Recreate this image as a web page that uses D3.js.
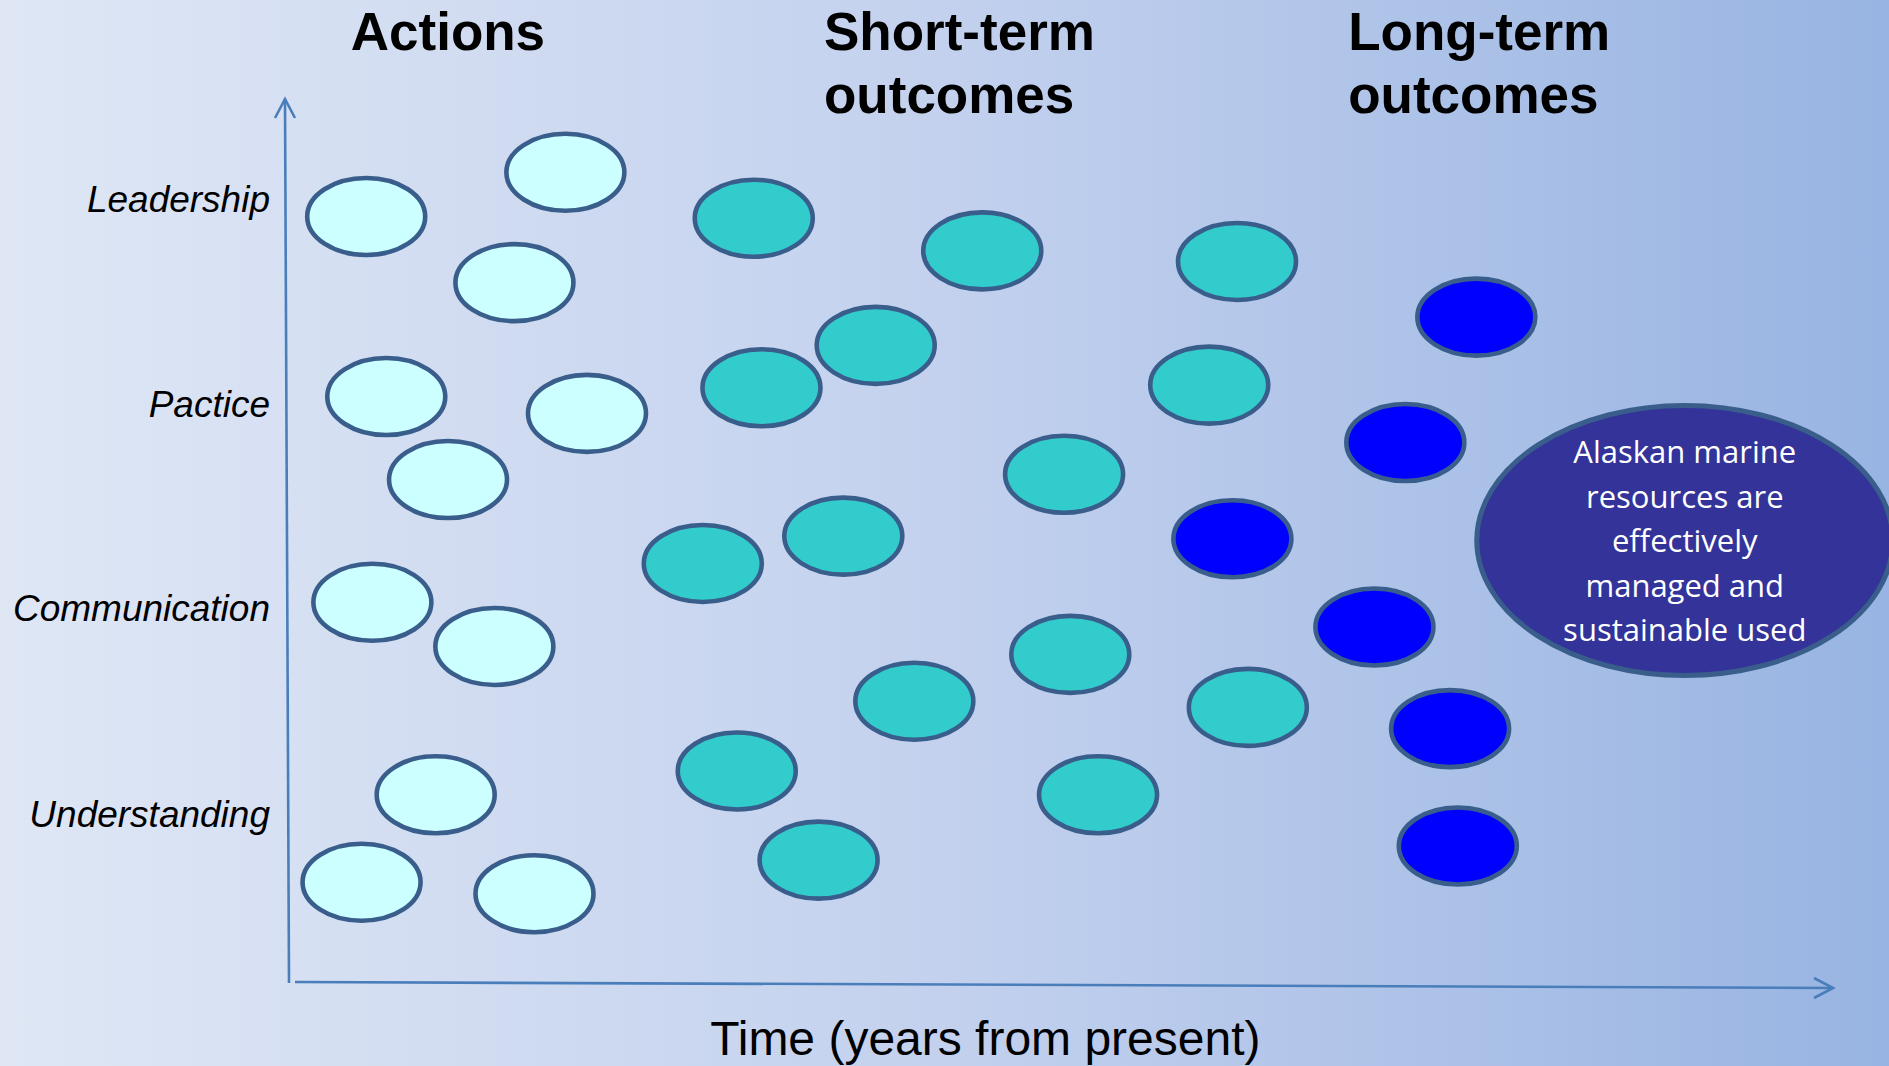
<!DOCTYPE html>
<html>
<head>
<meta charset="utf-8">
<script src="https://cdn.jsdelivr.net/npm/d3@7"></script>
<style>
  html, body { margin: 0; padding: 0; overflow: hidden; }
  svg { display: block; }
</style>
</head>
<body>
<svg id="chart" width="1889" height="1066"></svg>
<script>
// ---------- DATA ----------
const categories = ["Leadership", "Pactice", "Communication", "Understanding"];
const categoryLevels = [8.87, 6.55, 4.24, 1.90];

const phaseTitles = [["Actions"], ["Short-term", "outcomes"], ["Long-term", "outcomes"]];
const phaseTitleTime = [0.40, 3.465, 6.86];

const xAxisLabel = "Time (years from present)";

// Actions (light cyan)
const actionTime  = [0.50, 1.79, 1.46, 0.63, 1.93, 1.03, 0.54, 1.33, 0.95, 0.47, 1.59];
const actionLevel = [8.67, 9.17, 7.92, 6.63, 6.44, 5.69, 4.30, 3.80, 2.12, 1.13, 1.00];

// Short-term outcomes (teal)
const shortTime  = [3.01, 4.49, 6.14, 3.80, 3.06, 5.96, 5.02, 3.59, 2.68, 5.06, 4.05, 6.21, 2.90, 5.24, 3.43];
const shortLevel = [8.65, 8.28, 8.16, 7.21, 6.73, 6.76, 5.75, 5.05, 4.74, 3.71, 3.18, 3.11, 2.39, 2.12, 1.38];

// Long-term outcomes (blue)
const longTime  = [7.69, 7.23, 6.11, 7.03, 7.52, 7.57];
const longLevel = [7.53, 6.11, 5.02, 4.02, 2.87, 1.54];

// Goal
const goalTime = 9.04;
const goalLevel = 5.00;
const goalLines = ["Alaskan marine", "resources are", "effectively", "managed and", "sustainable used"];

// ---------- LAYOUT / STYLE ----------
const W = 1889, H = 1066;
const svg = d3.select("#chart");

const x = d3.scaleLinear().domain([0, 10]).range([289, 1833]);
const y = d3.scaleLinear().domain([0, 10]).range([982, 99]);

const axisColor = "#4a7ebb";
const outline = "#3a5e8b";

// background gradient
const defs = svg.append("defs");
const grad = defs.append("linearGradient").attr("id", "bg")
  .attr("x1", "0%").attr("y1", "0%").attr("x2", "100%").attr("y2", "0%");
grad.append("stop").attr("offset", "0%").attr("stop-color", "#dfe7f5");
grad.append("stop").attr("offset", "50%").attr("stop-color", "#c3d1ee");
grad.append("stop").attr("offset", "100%").attr("stop-color", "#98b4e2");
svg.append("rect").attr("width", W).attr("height", H).attr("fill", "url(#bg)");

// ---------- AXES ----------
const ax = svg.append("g").attr("fill", "none").attr("stroke", axisColor)
  .attr("stroke-width", 2.6).attr("stroke-linecap", "butt");

// vertical axis (slight lean, as in the original)
const vx0 = x(0), vy0 = y(0) + 1, vx1 = x(0) - 4, vy1 = y(10);
ax.append("line").attr("x1", vx0).attr("y1", vy0).attr("x2", vx1).attr("y2", vy1);
ax.append("polyline").attr("points", `${vx1 - 10},${vy1 + 19} ${vx1},${vy1} ${vx1 + 10},${vy1 + 19}`);

// horizontal axis
const hx0 = x(0) + 6, hy0 = y(0), hx1 = x(10), hy1 = y(0) + 6;
ax.append("line").attr("x1", hx0).attr("y1", hy0).attr("x2", hx1).attr("y2", hy1);
ax.append("polyline").attr("points", `${hx1 - 19},${hy1 - 10} ${hx1},${hy1} ${hx1 - 19},${hy1 + 10}`);

// category labels (y "ticks")
svg.append("g").selectAll("text").data(categories).join("text")
  .attr("x", x(0) - 19)
  .attr("y", (d, i) => y(categoryLevels[i]))
  .attr("dy", "0.35em")
  .attr("text-anchor", "end")
  .attr("font-family", "'Liberation Sans', Arial, sans-serif")
  .attr("font-style", "italic")
  .attr("font-size", 37)
  .attr("fill", "#000")
  .text(d => d);

// x axis label
svg.append("text")
  .attr("x", x(4.51)).attr("y", 1055)
  .attr("text-anchor", "middle")
  .attr("font-family", "'Liberation Sans', Arial, sans-serif")
  .attr("font-size", 48)
  .attr("fill", "#000")
  .text(xAxisLabel);

// phase titles
const tg = svg.append("g");
phaseTitles.forEach((lines, i) => {
  const t = tg.append("text")
    .attr("x", x(phaseTitleTime[i])).attr("y", 50)
    .attr("font-family", "'Liberation Sans', Arial, sans-serif")
    .attr("font-weight", "bold")
    .attr("font-size", 53)
    .attr("fill", "#000");
  lines.forEach((l, j) => {
    t.append("tspan").attr("x", x(phaseTitleTime[i])).attr("dy", j === 0 ? 0 : 63).text(l);
  });
});

// ---------- ELLIPSES ----------
const RX = 59, RY = 38.5, SW = 4.6;
function drawGroup(times, levels, fill) {
  svg.append("g").selectAll("ellipse").data(times).join("ellipse")
    .attr("cx", (d) => x(d))
    .attr("cy", (d, i) => y(levels[i]))
    .attr("rx", RX).attr("ry", RY)
    .attr("fill", fill)
    .attr("stroke", outline)
    .attr("stroke-width", SW);
}
drawGroup(actionTime, actionLevel, "#ccffff");
drawGroup(shortTime, shortLevel, "#33cccc");
drawGroup(longTime, longLevel, "#0000ff");

// goal ellipse
const gx = x(goalTime), gy = y(goalLevel);
svg.append("ellipse")
  .attr("cx", gx).attr("cy", gy)
  .attr("rx", 208).attr("ry", 135)
  .attr("fill", "#333399")
  .attr("stroke", outline)
  .attr("stroke-width", 5);

const gt = svg.append("text")
  .attr("x", gx).attr("y", 463)
  .attr("text-anchor", "middle")
  .attr("font-family", "'Open Sans', 'Noto Sans', sans-serif")
  .attr("font-size", 31)
  .attr("fill", "#ffffff");
goalLines.forEach((l, j) => {
  gt.append("tspan").attr("x", gx).attr("dy", j === 0 ? 0 : 44.6).text(l);
});
</script>
</body>
</html>
